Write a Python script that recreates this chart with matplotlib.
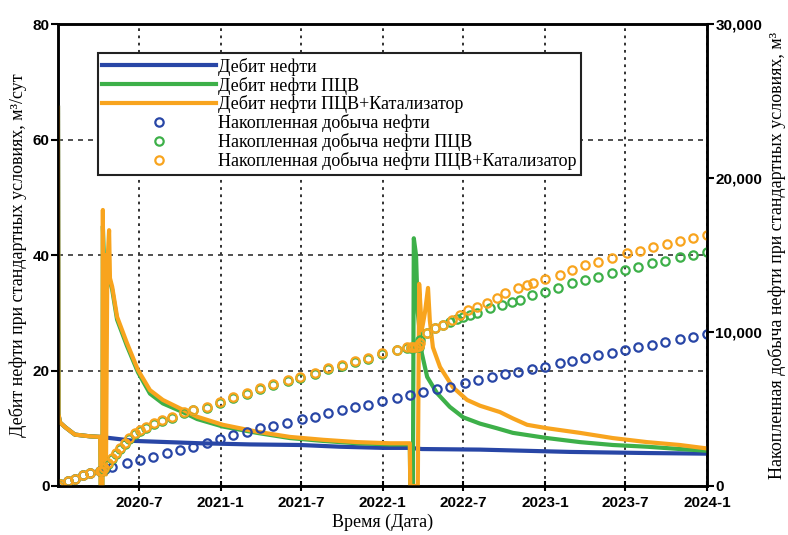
import numpy as np
import pandas as pd
import matplotlib
matplotlib.use("Agg")
import matplotlib.pyplot as plt
from matplotlib.ticker import FuncFormatter

# ---------------------
# data (time in days from 2020-01-01)
# ---------------------
start = pd.Timestamp("2020-01-01")

# rate, m3/day
t_base = [0, 1, 4.5, 16, 38, 72, 95, 173, 320, 432, 545, 635, 732, 792, 819, 950, 1153, 1333, 1461]
q_base = [65.5, 12.5, 11.0, 10.2, 8.9, 8.6, 8.5, 7.8, 7.4, 7.2, 7.1, 6.8, 6.6, 6.6, 6.4, 6.3, 5.9, 5.7, 5.6]

t_pcv = [0, 1, 4.5, 16, 38, 72, 95, 96, 100, 101, 104, 108, 115, 122, 133, 155, 180, 207, 236,
         281, 313, 371, 448, 522, 597, 673, 747, 792, 793, 799, 801, 806, 810, 819, 831, 853,
         882, 912, 950, 988, 1024, 1101, 1175, 1249, 1326, 1400, 1461]
q_pcv = [65.5, 12.5, 11.0, 10.2, 8.9, 8.6, 8.5, 0, 0, 45, 38, 40, 36, 34.0, 28.8, 24.3, 19.7, 16.0, 14.3,
         12.8, 11.6, 10.3, 9.2, 8.3, 7.8, 7.4, 7.2, 7.2, 0, 0, 42.9, 40, 30, 23, 18.9, 16.1,
         13.7, 11.9, 10.8, 10.0, 9.2, 8.3, 7.6, 7.1, 6.8, 6.4, 6.1]

t_cat = [0, 1, 4.5, 16, 38, 72, 95, 96, 100, 101, 103, 105, 108, 111, 115, 117, 122, 133, 155, 180,
         207, 236, 281, 313, 371, 448, 522, 597, 673, 747, 792, 793, 810, 813, 819, 826, 833, 837,
         844, 860, 889, 921, 950, 995, 1024, 1056, 1101, 1175, 1249, 1326, 1400, 1461]
q_cat = [65.5, 12.5, 11.0, 10.2, 8.9, 8.6, 8.5, 0, 0, 47.8, 3, 40, 2, 38, 44.3, 36, 34.5, 29.3, 24.8, 20.1,
         16.6, 14.9, 13.2, 12.0, 10.6, 9.4, 8.5, 8.0, 7.6, 7.4, 7.4, 0, 0, 35, 27, 30, 34.3, 28.7,
         24, 20.6, 17.1, 14.9, 13.9, 12.8, 11.7, 10.6, 10.0, 9.2, 8.3, 7.6, 7.1, 6.5]

# cumulative, m3
tc_base = [0, 4.5, 22, 38, 56, 72, 95, 106, 122, 155, 185, 214, 245, 275, 304, 335, 365, 394, 425,
           455, 484, 515, 549, 579, 608, 639, 669, 698, 729, 763, 792, 822, 853, 882, 916, 945, 977,
           1006, 1035, 1067, 1096, 1130, 1157, 1186, 1216, 1247, 1276, 1306, 1337, 1366, 1400, 1429, 1461]
Q_base = [0, 150, 330, 480, 700, 850, 1000, 1100, 1230, 1490, 1690, 1880, 2140, 2340, 2530, 2790, 3050,
          3310, 3510, 3770, 3900, 4090, 4350, 4480, 4740, 4940, 5130, 5260, 5500, 5710, 5910, 6100,
          6300, 6430, 6690, 6880, 7080, 7270, 7400, 7600, 7730, 7990, 8120, 8310, 8510, 8640, 8830,
          9030, 9160, 9350, 9550, 9680, 9870]

tc_pcv = [0, 4.5, 22, 38, 56, 72, 95, 97, 100, 103, 112, 122, 130, 140, 150, 160, 173, 185, 199, 216,
          234, 256, 283, 304, 335, 365, 394, 425, 455, 484, 518, 545, 579, 608, 639, 669, 698, 729,
          763, 785, 795, 800, 806, 812, 815, 831, 849, 867, 882, 898, 912, 927, 943, 972, 999, 1022,
          1040, 1067, 1096, 1125, 1157, 1186, 1216, 1247, 1276, 1306, 1337, 1366, 1400, 1429, 1461]
Q_pcv = [0, 150, 330, 480, 700, 850, 1000, 1000, 1000, 1130, 1460, 1760, 2090, 2420, 2740, 3070,
         3390, 3590, 3780, 4040, 4240, 4430, 4750, 4910, 5080, 5400, 5730, 5990, 6310, 6570, 6830,
         7030, 7290, 7610, 7810, 8070, 8260, 8590, 8800, 8950, 8980, 8990, 9000, 9050, 9500, 9950,
         10250, 10450, 10650, 10850, 10970, 11100, 11230, 11560, 11750, 11950, 12100, 12400, 12600,
         12860, 13180, 13380, 13570, 13830, 14030, 14220, 14480, 14610, 14870, 15000, 15190]

tc_cat = [0, 4.5, 22, 38, 56, 72, 95, 97, 100, 103, 112, 122, 130, 140, 150, 160, 173, 185, 199, 216,
          234, 256, 283, 304, 335, 365, 394, 425, 455, 484, 518, 545, 579, 608, 639, 669, 698, 729,
          763, 785, 795, 800, 806, 812, 815, 831, 849, 867, 887, 905, 923, 943, 966, 988, 1006, 1035,
          1056, 1069, 1096, 1130, 1157, 1186, 1216, 1247, 1281, 1310, 1339, 1371, 1400, 1429, 1461]
Q_cat = [0, 150, 330, 480, 700, 850, 1000, 1000, 1000, 1150, 1500, 1800, 2140, 2470, 2790, 3120,
         3440, 3640, 3830, 4090, 4290, 4480, 4800, 4960, 5130, 5450, 5780, 6040, 6360, 6620, 6880,
         7080, 7340, 7660, 7860, 8120, 8310, 8640, 8850, 9000, 9030, 9040, 9050, 9100, 9300, 9940,
         10250, 10450, 10780, 11100, 11430, 11620, 11880, 12210, 12530, 12860, 13050, 13180, 13440,
         13700, 14030, 14350, 14550, 14810, 15130, 15260, 15520, 15710, 15910, 16100, 16300]

x_ticks = ["2020-7", "2021-1", "2021-7", "2022-1", "2022-7", "2023-1", "2023-7", "2024-1"]

labels = ["Дебит нефти", "Дебит нефти ПЦВ", "Дебит нефти ПЦВ+Катализатор",
          "Накопленная добыча нефти", "Накопленная добыча нефти ПЦВ",
          "Накопленная добыча нефти ПЦВ+Катализатор"]

c_blue = "#2846a6"
c_green = "#3db049"
c_orange = "#f8a41e"


def to_dates(days):
    return start + pd.to_timedelta(np.array(days, dtype=float), unit="D")


serif = ["Liberation Serif", "DejaVu Serif"]
sans = ["Liberation Sans", "DejaVu Sans"]

fig = plt.figure(figsize=(7.88, 5.35), dpi=100)
ax = fig.add_axes([0.0736, 0.0916, 0.8236, 0.8635])
ax2 = ax.twinx()

l1, = ax.plot(to_dates(t_base), q_base, color=c_blue, lw=3, zorder=3)
l2, = ax.plot(to_dates(t_pcv), q_pcv, color=c_green, lw=3, zorder=4)
l3, = ax.plot(to_dates(t_cat), q_cat, color=c_orange, lw=3, zorder=5)

mk = dict(ls="none", marker="o", ms=6, mfc="none", mew=1.6)
m1, = ax2.plot(to_dates(tc_base), Q_base, mec=c_blue, **mk)
m2, = ax2.plot(to_dates(tc_pcv), Q_pcv, mec=c_green, **mk)
m3, = ax2.plot(to_dates(tc_cat), Q_cat, mec=c_orange, **mk)

ax.set_xlim(start, pd.Timestamp("2024-01-01"))
ax.set_ylim(0, 80)
ax2.set_ylim(0, 30000)

tick_dates = [pd.Timestamp(s + "-01") for s in x_ticks]
ax.set_xticks(tick_dates)
ax.set_xticklabels(x_ticks)
ax.set_yticks([0, 20, 40, 60, 80])
ax2.set_yticks([0, 10000, 20000, 30000])
ax2.yaxis.set_major_formatter(FuncFormatter(lambda v, p: f"{v:,.0f}"))

for lab in ax.get_xticklabels() + ax.get_yticklabels() + ax2.get_yticklabels():
    lab.set_fontfamily(sans)
    lab.set_fontweight("bold")
    lab.set_fontsize(11)

ax.tick_params(axis="x", direction="inout", length=7, width=1.5, pad=4)
ax.tick_params(axis="y", direction="out", length=5, width=1.5, pad=1)
ax2.tick_params(axis="y", direction="out", length=5, width=1.5, pad=1)

ax.xaxis.grid(True, ls=(0, (1.5, 2.5)), color="#222222", lw=1.3)
ax.yaxis.grid(True, ls=(0, (3, 3)), color="#333333", lw=1.2)
ax.set_axisbelow(True)

for a in (ax, ax2):
    for s in a.spines.values():
        s.set_linewidth(1.8)

ax.set_xlabel("Время (Дата)", family=serif, fontsize=13, labelpad=2)
ax.set_ylabel("Дебит нефти при стандартных условиях, м³/сут", family=serif, fontsize=13, labelpad=4)
ax2.set_ylabel("Накопленная добыча нефти при стандартных условиях, м³", family=serif,
               fontsize=13, labelpad=4, rotation=90)

leg = ax2.legend([l1, l2, l3, m1, m2, m3], labels, loc="upper left",
                 bbox_to_anchor=(0.0616, 0.937), prop={"family": serif, "size": 13},
                 handlelength=6.3, handletextpad=0.1, labelspacing=0.05,
                 borderpad=0.25, borderaxespad=0, fancybox=False, framealpha=1,
                 edgecolor="#222222")
leg.get_frame().set_linewidth(1.5)

fig.savefig("out.png", dpi=100)
